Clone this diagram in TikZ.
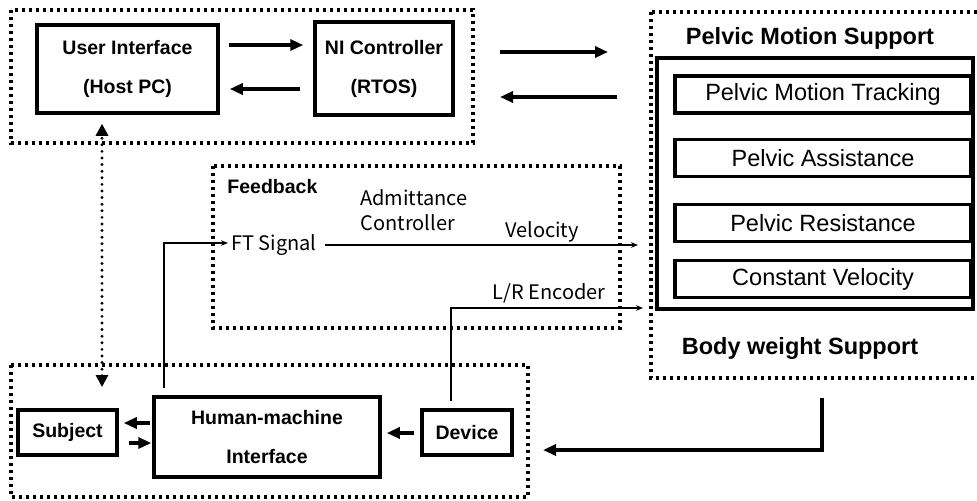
\documentclass[tikz,border=0pt]{standalone}
\usepackage{fontspec}
\setmainfont{Liberation Sans}
\newfontfamily\krfont{Noto Sans CJK KR}
\usetikzlibrary{arrows.meta,positioning,calc}

\begin{document}
\begin{tikzpicture}[x=0.5pt,y=-0.5pt,
  blk/.style={draw,line width=1.75pt,inner sep=0pt,align=center,font=\fontsize{9.75}{19.5}\selectfont\bfseries},
  mode/.style={draw,line width=1.6pt,inner sep=0pt,minimum width=148pt,minimum height=18.5pt,font=\fontsize{11.75}{14}\selectfont},
  grp/.style={line width=1.75pt,dash pattern=on 1.6pt off 1.9pt},
  thk/.style={line width=1.65pt,-{Triangle[length=6.5pt,width=5.5pt]}},
  sig/.style={line width=0.55pt,-{Stealth[length=3.5pt,width=2.8pt]}},
  lnk/.style={line width=1.6pt,line cap=round,dash pattern=on 0pt off 3.3pt,{Triangle[length=6pt,width=6pt]}-{Triangle[length=6pt,width=6pt]}},
  lbl/.style={font=\krfont\fontsize{10}{12.5}\selectfont,inner sep=0pt},
  ttl/.style={font=\fontsize{11.75}{14}\selectfont\bfseries,inner sep=0pt}]
  \useasboundingbox (0,0) rectangle (977,500);

  \draw[grp] (11,10) rectangle (473,143);
  \draw[grp] (651,12) rectangle (980,378);
  \draw[grp] (213,166) rectangle (620,328);
  \draw[grp] (11,365) rectangle (528,497);

  \node[blk,minimum width=90.5pt,minimum height=44pt] (ui) at (127.5,69) {User Interface\\(Host PC)};
  \node[blk,minimum width=69pt,minimum height=46.5pt] (ni) at (384,68.5) {NI Controller\\(RTOS)};
  \draw[thk] ($(ui.east)+(9,-24)$) -- ($(ni.west)+(-10,-23.5)$);
  \draw[thk] ($(ni.west)+(-13,20.5)$) -- ($(ui.east)+(10,20)$);

  \coordinate (tosup) at (500,52);
  \coordinate (supin) at (608,52);
  \coordinate (supout) at (617,97);
  \coordinate (fromsup) at (500,97);
  \draw[thk] (tosup) -- (supin);
  \draw[thk] (supout) -- (fromsup);

  \node[ttl] (pms) at (810,38) {Pelvic Motion Support};
  \node[draw,line width=1.9pt,minimum width=158pt,minimum height=125.5pt] (pbox) at (815,183.5) {};
  \node[mode] (pmt) at (823,94.5) {Pelvic Motion Tracking};
  \node[mode,below=11.5pt of pmt] (pa) {Pelvic Assistance};
  \node[mode,below=12.5pt of pa] (pr) {Pelvic Resistance};
  \node[mode,below=8pt of pr] (cv) {Constant Velocity};
  \node[ttl] (bws) at (800,348) {Body weight Support};

  \node[font=\fontsize{9.75}{12}\selectfont\bfseries,inner sep=0pt,anchor=west] (fb) at (227,187) {Feedback};
  \node[lbl] (ft) at (274,245) {FT Signal};
  \node[lbl,align=left,anchor=west] (adm) at (360,210) {Admittance\\Controller};
  \node[lbl] (vel) at (542,232) {Velocity};
  \node[lbl] (enc) at (549,293) {L/R Encoder};
  \coordinate (velend) at (638,245);
  \coordinate (encend) at (643,308);
  \draw[sig] ([xshift=4pt]ft.east) -- (velend);

  \node[blk,minimum width=49.5pt,minimum height=22.5pt] (subj) at (67.5,432.5) {Subject};
  \node[blk,minimum width=113pt,minimum height=40pt] (hmi) at (267,437) {Human-machine\\Interface};
  \node[blk,minimum width=45pt,minimum height=22.5pt] (dev) at (467,432.5) {Device};
  \draw[thk] ($(hmi.west)+(-2,-14)$) -- ($(subj.east)+(5,-9.5)$);
  \draw[thk] ($(subj.east)+(10,10.5)$) -- ($(hmi.west)+(-1,6)$);
  \draw[thk] ($(dev.west)+(-6,0.5)$) -- ($(hmi.east)+(5,-4)$);
  \draw[sig] ($(hmi.north)+(-103,-7)$) |- ($(ft.west)+(-3,-2)$);
  \draw[sig] ($(dev.north)+(-16,-7)$) |- (encend);

  \coordinate (bwsout) at (822,398);
  \coordinate (hmiin) at (543,450);
  \draw[thk,line width=1.8pt] (bwsout) |- (hmiin);

  \coordinate (subjin) at (102,387);
  \draw[lnk] (subjin) -- ($(ui.south)+(-25.5,9)$);
\end{tikzpicture}
\end{document}
